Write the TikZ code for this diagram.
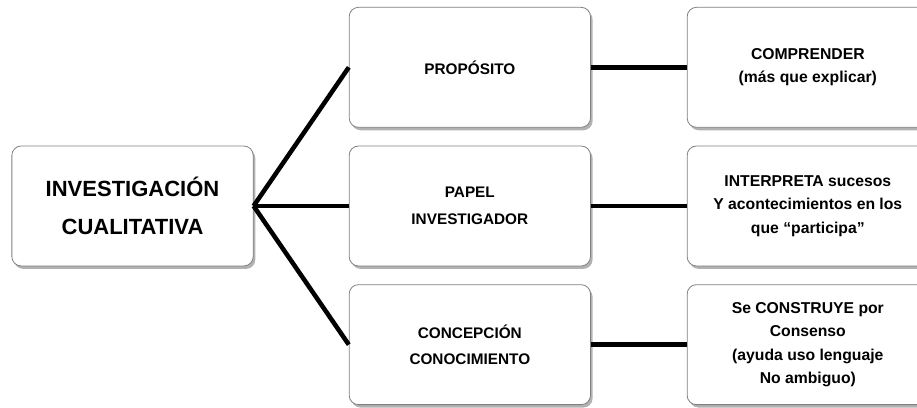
\documentclass[tikz,border=0pt]{standalone}
\usepackage{fontspec}
\setmainfont{Liberation Sans}
\usetikzlibrary{positioning}
\usetikzlibrary{shadows}
\tikzset{box/.style={draw=black!50, line width=0.6pt, rounded corners=7pt, fill=white,
    minimum width=181pt, minimum height=90pt, align=center, inner sep=2pt,
    font=\bfseries, drop shadow={shadow xshift=1.6pt, shadow yshift=-2.2pt, fill=black!60, opacity=0.5}}}
\tikzset{big/.style={font=\fontsize{16.5}{28.5}\selectfont\bfseries}}
\tikzset{mid/.style={font=\fontsize{11.5}{20}\selectfont\bfseries}}
\tikzset{sml/.style={font=\fontsize{11.8}{17.5}\selectfont\bfseries}}
\tikzset{con/.style={line width=3.4pt, black}}

\begin{document}
\begin{tikzpicture}[on grid]
    \useasboundingbox (-99.4pt, 154.5pt) rectangle (588.4pt, -151.5pt);

    \node[box, big] (inv) at (0, 0) {INVESTIGACIÓN\\CUALITATIVA};

    \node[box, mid, right=253pt of inv] (pap) {PAPEL\\INVESTIGADOR};
    \node[box, mid, above=104pt of pap] (pro) {PROPÓSITO};
    \node[box, mid, below=104pt of pap] (con) {CONCEPCIÓN\\CONOCIMIENTO};

    \node[box, sml, right=253.5pt of pro] (com) {COMPRENDER\\(más que explicar)};
    \node[box, sml, right=253.5pt of pap] (int) {INTERPRETA sucesos\\Y acontecimientos en los\\que “participa”};
    \node[box, sml, right=253.5pt of con] (cons) {Se CONSTRUYE por\\Consenso\\(ayuda uso lenguaje\\No ambiguo)};

    \draw [con] (inv.east) -- (pro.west);
    \draw [con] (inv.east) -- (pap.west);
    \draw [con] (inv.east) -- (con.west);

    \draw [con] (pro) -- (com);
    \draw [con] (pap) -- (int);
    \draw [con] (con) -- (cons);
\end{tikzpicture}
\end{document}
